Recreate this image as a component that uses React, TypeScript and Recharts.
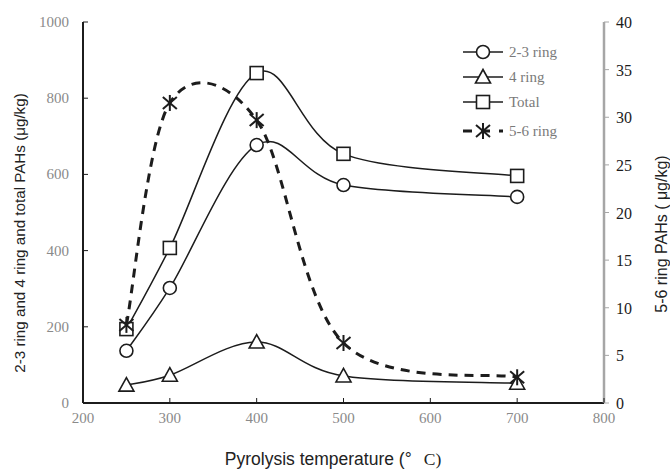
import React from "react";
import { LineChart, Line, XAxis, YAxis, Legend } from "recharts";

const temps = [250, 300, 400, 500, 700];
const ring23 = [137, 302, 677, 572, 541];
const ring4 = [47, 73, 160, 71, 52];
const total = [194, 407, 866, 654, 596];
const ring56 = [8.2, 31.5, 29.7, 6.3, 2.7];

const xTicks = [200, 300, 400, 500, 600, 700, 800];
const leftTicks = [0, 200, 400, 600, 800, 1000];
const rightTicks = [0, 5, 10, 15, 20, 25, 30, 35, 40];

const legendItems = [
  { key: "ring23", label: "2-3 ring", shape: "circle", dashed: false },
  { key: "ring4", label: "4 ring", shape: "triangle", dashed: false },
  { key: "total", label: "Total", shape: "square", dashed: false },
  { key: "ring56", label: "5-6 ring", shape: "star", dashed: true },
];

const data = temps.map((t, i) => ({
  temp: t,
  ring23: ring23[i],
  ring4: ring4[i],
  total: total[i],
  ring56: ring56[i],
}));

const INK = "#1c1c1c";
const SERIF = "'Liberation Serif', 'Times New Roman', serif";
const SANS = "'Liberation Sans', Arial, sans-serif";

// Excel-like smoothed line (Catmull-Rom through the points)
function smoothCurve(context: any) {
  let pts: number[][] = [];
  return {
    areaStart() {},
    areaEnd() {},
    lineStart() {
      pts = [];
    },
    point(x: number, y: number) {
      pts.push([+x, +y]);
    },
    lineEnd() {
      const n = pts.length;
      if (!n) return;
      context.moveTo(pts[0][0], pts[0][1]);
      for (let i = 0; i < n - 1; i++) {
        const p0 = pts[Math.max(i - 1, 0)];
        const p1 = pts[i];
        const p2 = pts[i + 1];
        const p3 = pts[Math.min(i + 2, n - 1)];
        context.bezierCurveTo(
          p1[0] + (p2[0] - p0[0]) / 6,
          p1[1] + (p2[1] - p0[1]) / 6,
          p2[0] - (p3[0] - p1[0]) / 6,
          p2[1] - (p3[1] - p1[1]) / 6,
          p2[0],
          p2[1]
        );
      }
    },
  };
}

function Marker({ shape, cx, cy }: { shape: string; cx: number; cy: number }) {
  const common = { stroke: INK, strokeWidth: 1.6, fill: "#fff" };
  if (shape === "circle") return <circle cx={cx} cy={cy} r={6.5} {...common} />;
  if (shape === "triangle")
    return (
      <polygon
        points={`${cx},${cy - 7.5} ${cx - 7.5},${cy + 6} ${cx + 7.5},${cy + 6}`}
        {...common}
      />
    );
  if (shape === "square")
    return <rect x={cx - 6.5} y={cy - 6.5} width={13} height={13} {...common} />;
  return (
    <g stroke={INK} strokeWidth={2}>
      <line x1={cx} y1={cy - 8} x2={cx} y2={cy + 8} />
      <line x1={cx - 7} y1={cy - 6} x2={cx + 7} y2={cy + 6} />
      <line x1={cx - 7} y1={cy + 6} x2={cx + 7} y2={cy - 6} />
    </g>
  );
}

const dotFor = (shape: string) => (props: any) => (
  <Marker key={`${shape}-${props.index}`} shape={shape} cx={props.cx} cy={props.cy} />
);

const XTick = (props: any) => {
  const { x, y, payload } = props;
  return (
    <g>
      <line x1={x} y1={y} x2={x} y2={y - 5} stroke={INK} strokeWidth={1} />
      <text x={x} y={y + 20} textAnchor="middle" fill="#8a8a8a" fontFamily={SERIF} fontSize={15}>
        {payload.value}
      </text>
    </g>
  );
};

const LeftTick = (props: any) => {
  const { x, y, payload } = props;
  return (
    <g>
      <line x1={x} y1={y} x2={x + 5} y2={y} stroke={INK} strokeWidth={1} />
      <text x={x - 14} y={y + 5} textAnchor="end" fill="#8a8a8a" fontFamily={SERIF} fontSize={15}>
        {payload.value}
      </text>
    </g>
  );
};

const RightTick = (props: any) => {
  const { x, y, payload } = props;
  return (
    <g>
      <line x1={x} y1={y} x2={x + 5} y2={y} stroke="#a6a6a6" strokeWidth={1} />
      <text x={x + 12} y={y + 6} textAnchor="start" fill={INK} fontFamily={SERIF} fontSize={16}>
        {payload.value}
      </text>
    </g>
  );
};

const LegendBox = () => (
  <svg width={170} height={110}>
    {legendItems.map((item, i) => {
      const y = 14 + i * 25 + (i === 3 ? 4 : 0);
      return (
        <g key={item.key}>
          <line
            x1={8}
            y1={y}
            x2={48}
            y2={y}
            stroke={INK}
            strokeWidth={item.dashed ? 3 : 1.5}
            strokeDasharray={item.dashed ? "9 9" : undefined}
          />
          <Marker shape={item.shape} cx={28} cy={y} />
          <text x={54} y={y + 5} fill="#7a7a7a" fontFamily={SERIF} fontSize={15}>
            {item.label}
          </text>
        </g>
      );
    })}
  </svg>
);

export default function App() {
  return (
    <div style={{ position: "absolute", left: 0, top: 0, width: 670, height: 470, background: "#fff" }}>
      <LineChart width={670} height={470} data={data} margin={{ top: 22, right: 0, bottom: 0, left: 0 }}>
        <XAxis
          dataKey="temp"
          type="number"
          domain={[200, 800]}
          ticks={xTicks}
          height={67}
          tickSize={0}
          tickMargin={0}
          tickLine={false}
          tick={<XTick />}
          axisLine={{ stroke: INK, strokeWidth: 2 }}
          label={() => (
            <text x={333} y={465} textAnchor="middle" fill="#222" fontFamily={SANS} fontSize={17.5}>
              <tspan>Pyrolysis temperature (°</tspan>
              <tspan dx={12} fontFamily={SERIF}>C)</tspan>
            </text>
          )}
        />
        <YAxis
          yAxisId="left"
          orientation="left"
          domain={[0, 1000]}
          ticks={leftTicks}
          width={83}
          tickSize={0}
          tickMargin={0}
          tickLine={false}
          tick={<LeftTick />}
          axisLine={{ stroke: INK, strokeWidth: 2 }}
          label={() => (
            <text
              x={19}
              y={233}
              transform="rotate(-90 19 233)"
              textAnchor="middle"
              dominantBaseline="central"
              fill="#222"
              fontFamily={SANS}
              fontSize={15.2}
            >
              2-3 ring and 4 ring and total PAHs (μg/kg)
            </text>
          )}
        />
        <YAxis
          yAxisId="right"
          orientation="right"
          domain={[0, 40]}
          ticks={rightTicks}
          width={66}
          tickSize={0}
          tickMargin={0}
          tickLine={false}
          tick={<RightTick />}
          axisLine={{ stroke: "#a6a6a6", strokeWidth: 2.5 }}
          label={() => (
            <text
              x={661}
              y={234}
              transform="rotate(-90 661 234)"
              textAnchor="middle"
              dominantBaseline="central"
              fill="#222"
              fontFamily={SANS}
              fontSize={16}
              style={{ whiteSpace: "pre" }}
            >
              {"5-6 ring PAHs ( μg/kg)"}
            </text>
          )}
        />
        <Legend
          layout="horizontal"
          verticalAlign="middle"
          align="center"
          content={() => <LegendBox />}
          wrapperStyle={{ left: 455, top: 38, width: 170, height: 110 }}
        />
        <Line
          yAxisId="left"
          dataKey="ring23"
          type={smoothCurve as any}
          stroke={INK}
          strokeWidth={1.5}
          dot={dotFor("circle")}
          isAnimationActive={false}
        />
        <Line
          yAxisId="left"
          dataKey="ring4"
          type={smoothCurve as any}
          stroke={INK}
          strokeWidth={1.5}
          dot={dotFor("triangle")}
          isAnimationActive={false}
        />
        <Line
          yAxisId="left"
          dataKey="total"
          type={smoothCurve as any}
          stroke={INK}
          strokeWidth={1.5}
          dot={dotFor("square")}
          isAnimationActive={false}
        />
        <Line
          yAxisId="right"
          dataKey="ring56"
          type={smoothCurve as any}
          stroke={INK}
          strokeWidth={3}
          strokeDasharray="9 7"
          dot={dotFor("star")}
          isAnimationActive={false}
        />
      </LineChart>
    </div>
  );
}
